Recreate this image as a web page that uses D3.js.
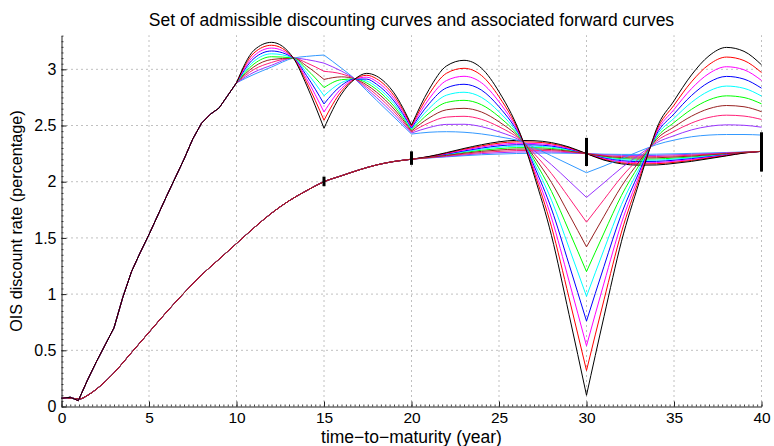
<!DOCTYPE html>
<html>
<head>
<meta charset="utf-8">
<script src="https://cdn.jsdelivr.net/npm/d3@7"></script>
<style>
  body { margin: 0; background: #fff; }
  svg { display: block; }
  text { font-family: "Liberation Sans", Arial, Helvetica, sans-serif; fill: #000; }
</style>
</head>
<body>
<div id="chart"></div>
<script>
// colours of the ten admissible curves, most extreme first
var curveColors = ["#000000", "#ff0000", "#ff00ff", "#0000ff", "#00ffff",
  "#00ff00", "#992222", "#ff1f77", "#9933ff", "#3399ff"];

// forward curve: part shared by every curve (0 - 10y)
var fwdCommonYears = [0, 0.5, 0.96, 1.5, 2, 2.5, 3, 3.5, 4, 4.5, 5, 6, 7, 7.5, 8, 8.5, 9, 10];
var fwdCommon = [0.073, 0.082, 0.052, 0.24, 0.40, 0.55, 0.70, 0.97, 1.2, 1.37, 1.53, 1.87, 2.2, 2.38, 2.52, 2.6, 2.655, 2.88];

// forward curves from 10y, kinks at 15, 20, 30
var fwdYears = [10, 11, 12, 13.25, 14, 15, 16, 16.77, 17.44, 18, 19, 20,
  21, 22, 23, 24, 25, 26.4, 27, 28, 29, 30,
  31, 32, 33, 33.65, 34, 35, 36, 37, 38, 39, 40];
var fwdKinks = [15, 20, 30];

var fwdBlack = [2.88, 3.17, 3.24, 3.10, 2.86, 2.475, 2.78, 2.914, 2.964, 2.94, 2.79, 2.504, 2.82, 3.03, 3.08, 3.01, 2.80, 2.35, 2.06, 1.52, 0.82, 0.10, 0.80, 1.47, 1.99, 2.31, 2.47, 2.72, 2.95, 3.12, 3.195, 3.16, 3.04];
var fwdRed = [2.88, 3.146, 3.214, 3.10, 2.888, 2.547, 2.806, 2.914, 2.947, 2.916, 2.766, 2.495, 2.778, 2.965, 3.009, 2.945, 2.756, 2.35, 2.087, 1.599, 0.968, 0.32, 0.949, 1.552, 2.021, 2.31, 2.454, 2.681, 2.889, 3.042, 3.109, 3.078, 2.971];
var fwdMagenta = [2.88, 3.121, 3.189, 3.10, 2.917, 2.62, 2.831, 2.914, 2.93, 2.892, 2.742, 2.486, 2.736, 2.9, 2.938, 2.88, 2.711, 2.35, 2.114, 1.678, 1.117, 0.54, 1.098, 1.633, 2.052, 2.31, 2.439, 2.642, 2.828, 2.963, 3.023, 2.996, 2.901];
var fwdBlue = [2.88, 3.097, 3.163, 3.10, 2.945, 2.692, 2.857, 2.914, 2.913, 2.868, 2.718, 2.477, 2.693, 2.835, 2.867, 2.815, 2.667, 2.35, 2.142, 1.757, 1.265, 0.76, 1.247, 1.715, 2.083, 2.31, 2.423, 2.603, 2.767, 2.885, 2.937, 2.913, 2.832];
var fwdCyan = [2.88, 3.072, 3.138, 3.10, 2.973, 2.765, 2.882, 2.914, 2.896, 2.844, 2.694, 2.468, 2.651, 2.77, 2.796, 2.75, 2.622, 2.35, 2.169, 1.836, 1.413, 0.98, 1.396, 1.797, 2.114, 2.31, 2.408, 2.564, 2.706, 2.807, 2.851, 2.831, 2.762];
var fwdGreen = [2.88, 3.048, 3.112, 3.10, 3.002, 2.837, 2.908, 2.914, 2.879, 2.821, 2.671, 2.46, 2.609, 2.705, 2.724, 2.685, 2.578, 2.35, 2.196, 1.914, 1.562, 1.20, 1.544, 1.878, 2.146, 2.31, 2.392, 2.526, 2.644, 2.728, 2.764, 2.749, 2.693];
var fwdMaroon = [2.88, 3.023, 3.087, 3.10, 3.03, 2.91, 2.933, 2.914, 2.861, 2.797, 2.647, 2.451, 2.567, 2.64, 2.653, 2.62, 2.533, 2.35, 2.223, 1.993, 1.71, 1.42, 1.693, 1.96, 2.177, 2.31, 2.377, 2.487, 2.583, 2.65, 2.678, 2.667, 2.623];
var fwdPink = [2.88, 2.999, 3.061, 3.10, 3.058, 2.982, 2.959, 2.914, 2.844, 2.773, 2.623, 2.442, 2.524, 2.575, 2.582, 2.555, 2.489, 2.35, 2.251, 2.072, 1.858, 1.64, 1.842, 2.042, 2.208, 2.31, 2.361, 2.448, 2.522, 2.572, 2.592, 2.584, 2.554];
var fwdPurple = [2.88, 2.974, 3.036, 3.10, 3.087, 3.055, 2.984, 2.914, 2.827, 2.749, 2.599, 2.433, 2.482, 2.51, 2.511, 2.49, 2.444, 2.35, 2.278, 2.151, 2.007, 1.86, 1.991, 2.123, 2.239, 2.31, 2.346, 2.409, 2.461, 2.493, 2.506, 2.502, 2.485];
var fwdSky = [2.88, 2.955, 3.02, 3.10, 3.115, 3.127, 3.01, 2.914, 2.81, 2.725, 2.575, 2.424, 2.44, 2.445, 2.44, 2.425, 2.40, 2.35, 2.305, 2.23, 2.155, 2.08, 2.14, 2.205, 2.27, 2.31, 2.33, 2.37, 2.40, 2.415, 2.42, 2.42, 2.415];

// discount (zero) curve: shared part 0 - 20y
var zeroCommonYears = [0, 0.5, 1, 1.5, 2, 3, 4, 5, 6, 7, 8, 9, 10, 11, 12, 13, 14, 15, 16, 17, 18, 19];
var zeroCommon = [0.073, 0.076, 0.066, 0.10, 0.155, 0.30, 0.48, 0.66, 0.84, 1.01, 1.17, 1.31, 1.45, 1.59, 1.72, 1.83, 1.92, 2.00, 2.053, 2.105, 2.149, 2.18];

// discount curves 20 - 40y
var zeroYears = [20, 21, 22, 23, 24, 25, 26, 27, 28, 29, 30, 31, 32, 33, 34, 35, 36, 37, 38, 39, 40];
var zeroBlack = [2.20, 2.225, 2.259, 2.296, 2.329, 2.355, 2.368, 2.365, 2.348, 2.309, 2.25, 2.192, 2.159, 2.147, 2.149, 2.163, 2.181, 2.205, 2.23, 2.255, 2.27];
var zeroRed = [2.20, 2.223, 2.255, 2.289, 2.319, 2.343, 2.355, 2.353, 2.338, 2.303, 2.25, 2.198, 2.168, 2.158, 2.16, 2.172, 2.189, 2.211, 2.233, 2.256, 2.27];
var zeroMagenta = [2.20, 2.222, 2.251, 2.282, 2.309, 2.331, 2.342, 2.34, 2.327, 2.297, 2.25, 2.204, 2.178, 2.168, 2.17, 2.182, 2.197, 2.216, 2.237, 2.257, 2.27];
var zeroBlue = [2.20, 2.22, 2.246, 2.274, 2.299, 2.319, 2.329, 2.328, 2.317, 2.29, 2.25, 2.21, 2.187, 2.179, 2.181, 2.191, 2.205, 2.222, 2.24, 2.258, 2.27];
var zeroCyan = [2.20, 2.219, 2.242, 2.267, 2.289, 2.306, 2.316, 2.316, 2.307, 2.284, 2.25, 2.216, 2.196, 2.19, 2.192, 2.201, 2.213, 2.228, 2.243, 2.259, 2.27];
var zeroGreen = [2.20, 2.217, 2.238, 2.26, 2.28, 2.294, 2.303, 2.303, 2.296, 2.278, 2.25, 2.221, 2.206, 2.2, 2.202, 2.21, 2.22, 2.233, 2.247, 2.26, 2.27];
var zeroMaroon = [2.20, 2.216, 2.234, 2.253, 2.27, 2.282, 2.29, 2.291, 2.286, 2.272, 2.25, 2.227, 2.215, 2.211, 2.213, 2.22, 2.228, 2.239, 2.25, 2.261, 2.27];
var zeroPink = [2.20, 2.214, 2.23, 2.245, 2.26, 2.27, 2.277, 2.279, 2.276, 2.265, 2.25, 2.233, 2.224, 2.222, 2.224, 2.229, 2.236, 2.245, 2.253, 2.262, 2.27];
var zeroPurple = [2.20, 2.213, 2.225, 2.238, 2.25, 2.258, 2.264, 2.266, 2.265, 2.259, 2.25, 2.239, 2.234, 2.232, 2.234, 2.239, 2.244, 2.25, 2.257, 2.263, 2.27];
var zeroSky = [2.20, 2.211, 2.221, 2.231, 2.24, 2.246, 2.251, 2.254, 2.255, 2.253, 2.25, 2.245, 2.243, 2.243, 2.245, 2.248, 2.252, 2.256, 2.26, 2.264, 2.27];

// black bars on the discount curve
var barYears = [15, 20, 30, 40];
var barLow = [1.96, 2.15, 2.14, 2.09];
var barHigh = [2.045, 2.27, 2.39, 2.44];

var xTicks = [0, 5, 10, 15, 20, 25, 30, 35, 40];
var yTicks = [0, 0.5, 1, 1.5, 2, 2.5, 3];

var fwdSeries = [fwdBlack, fwdRed, fwdMagenta, fwdBlue, fwdCyan, fwdGreen, fwdMaroon, fwdPink, fwdPurple, fwdSky];
var zeroSeries = [zeroBlack, zeroRed, zeroMagenta, zeroBlue, zeroCyan, zeroGreen, zeroMaroon, zeroPink, zeroPurple, zeroSky];

var width = 774, height = 446;
var margin = { top: 35.6, right: 12.5, bottom: 39.5, left: 61.5 };

var svg = d3.select("#chart").append("svg")
  .attr("width", width)
  .attr("height", height);

var x = d3.scaleLinear().domain([0, 40]).range([margin.left, width - margin.right]);
var y = d3.scaleLinear().domain([0, 3.3]).range([height - margin.bottom, margin.top]);

// dotted grid
var grid = svg.append("g").attr("class", "grid")
  .attr("stroke", "#808080").attr("stroke-width", 1).attr("stroke-dasharray", "1,4");
grid.selectAll("line.gx").data(xTicks.filter(function (d) { return d > 0; }))
  .enter().append("line").attr("class", "gx")
  .attr("x1", function (d) { return x(d); }).attr("x2", function (d) { return x(d); })
  .attr("y1", y(0)).attr("y2", y(3.3));
grid.selectAll("line.gy").data(yTicks.filter(function (d) { return d > 0; }))
  .enter().append("line").attr("class", "gy")
  .attr("y1", function (d) { return y(d); }).attr("y2", function (d) { return y(d); })
  .attr("x1", x(0)).attr("x2", x(40));

var lineLin = d3.line().x(function (d) { return x(d[0]); }).y(function (d) { return y(d[1]); });
var lineSmooth = d3.line().curve(d3.curveMonotoneX)
  .x(function (d) { return x(d[0]); }).y(function (d) { return y(d[1]); });

var curves = svg.append("g").attr("fill", "none").attr("stroke-width", 1).attr("stroke-linejoin", "round");

// discount curves (drawn first)
var zeroOrder = [9, 8, 5, 4, 3, 2, 1, 0, 7, 6];
zeroOrder.forEach(function (k) {
  var pts = zeroCommonYears.map(function (yr, i) { return [yr, zeroCommon[i]]; })
    .concat(zeroYears.map(function (yr, i) { return [yr, zeroSeries[k][i]]; }));
  curves.append("path").attr("d", lineSmooth(pts)).attr("stroke", curveColors[k]);
});

// forward curves, black on top
for (var k = 9; k >= 0; k--) {
  var common = fwdCommonYears.map(function (yr, i) { return [yr, fwdCommon[i]]; });
  curves.append("path").attr("d", lineLin(common)).attr("stroke", curveColors[k]);
  var segs = [], cur = [];
  fwdYears.forEach(function (yr, i) {
    cur.push([yr, fwdSeries[k][i]]);
    if (fwdKinks.indexOf(yr) >= 0) {
      segs.push(cur);
      cur = [[yr, fwdSeries[k][i]]];
    }
  });
  segs.push(cur);
  segs.forEach(function (s) {
    curves.append("path").attr("d", lineSmooth(s)).attr("stroke", curveColors[k]);
  });
}

// bars
svg.append("g").selectAll("line").data(barYears).enter().append("line")
  .attr("x1", function (d) { return x(d); }).attr("x2", function (d) { return x(d); })
  .attr("y1", function (d, i) { return y(barLow[i]); })
  .attr("y2", function (d, i) { return y(barHigh[i]); })
  .attr("stroke", "#000").attr("stroke-width", 3);

// axes
var fs = "15.5px";
var xMinor = d3.range(0, 40.001, 0.25);
var yMinor = d3.range(0, 3.3001, 0.05);

svg.append("g").attr("transform", "translate(0," + y(0) + ")")
  .call(d3.axisBottom(x).tickValues(xMinor).tickSize(-2).tickSizeOuter(0).tickFormat(""))
  .call(function (g) { g.select(".domain").remove(); g.selectAll("line").attr("stroke", "#444"); });
svg.append("g").attr("transform", "translate(" + x(0) + ",0)")
  .call(d3.axisLeft(y).tickValues(yMinor).tickSize(-2).tickSizeOuter(0).tickFormat(""))
  .call(function (g) { g.select(".domain").remove(); g.selectAll("line").attr("stroke", "#444"); });

var xAxis = svg.append("g").attr("transform", "translate(0," + y(0) + ")")
  .call(d3.axisBottom(x).tickValues(xTicks).tickSize(-5).tickSizeOuter(0).tickPadding(5.5));
xAxis.selectAll("text").style("font-size", fs).attr("fill", "#000");
xAxis.selectAll("line, path").attr("stroke", "#222");

var yAxis = svg.append("g").attr("transform", "translate(" + x(0) + ",0)")
  .call(d3.axisLeft(y).tickValues(yTicks).tickSize(-5).tickSizeOuter(0).tickPadding(5)
    .tickFormat(d3.format("")));
yAxis.selectAll("text").style("font-size", "16px").attr("fill", "#000");
yAxis.selectAll("line, path").attr("stroke", "#222");

// labels
svg.append("text").attr("x", x(20)).attr("y", 25.5).attr("text-anchor", "middle")
  .style("font-size", "17.5px").text("Set of admissible discounting curves and associated forward curves");
svg.append("text").attr("x", x(20)).attr("y", 442.5).attr("text-anchor", "middle")
  .style("font-size", "17.5px").text("time\u2212to\u2212maturity (year)");
svg.append("text").attr("transform", "translate(21.5," + y(1.65) + ") rotate(-90)")
  .attr("text-anchor", "middle").style("font-size", "16.2px")
  .text("OIS discount rate (percentage)");
</script>
</body>
</html>
